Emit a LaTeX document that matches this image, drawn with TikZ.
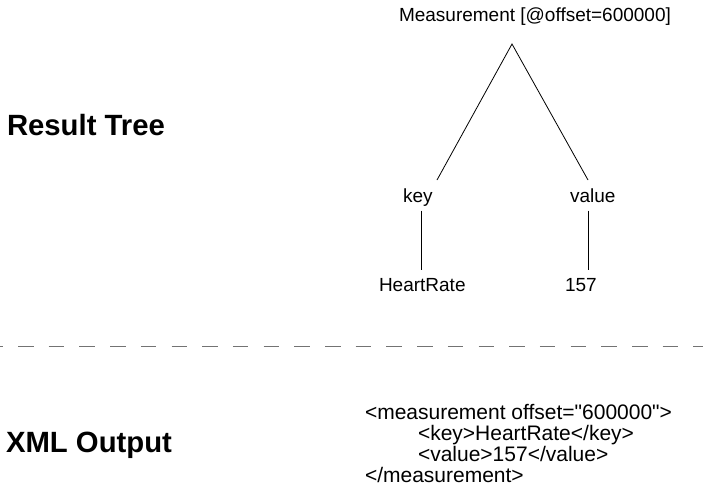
\documentclass[tikz,border=0pt]{standalone}
\usepackage{fontspec}
\setmainfont{Liberation Sans}[Ligatures=TeXOff]
\begin{document}
\begin{tikzpicture}[x=1pt,y=-1pt,
  lbl/.style={inner sep=0pt,outer sep=0pt,anchor=base west,font=\fontsize{19}{22}\selectfont},
  head/.style={inner sep=0pt,outer sep=0pt,anchor=base west,font=\fontsize{29.3}{34}\selectfont\bfseries},
  code/.style={inner sep=0pt,outer sep=0pt,anchor=base west,font=\fontsize{21}{21}\selectfont},
  edge/.style={line width=0.8pt,black},
  sep/.style={line width=1.5pt,black!55,dash pattern=on 15.5pt off 15.2pt,dash phase=12.7pt}]
\useasboundingbox[fill=white] (0,0) rectangle (703,499);
% headings
\node[head] (rt) at (7,135.7) {Result Tree};
\node[head] (xo) at (6,452.7) {XML Output};
% tree
\node[lbl] (root) at (399,21.5) {Measurement [@offset=600000]};
\node[lbl] (key) at (403,202) {key};
\node[lbl] (val) at (570,202) {value};
\node[lbl] (hr) at (379,291.7) {HeartRate};
\node[lbl] (num) at (565,291.7) {157};
\coordinate (apex) at (512,44);
\coordinate (keyend) at (437,180);
\coordinate (valend) at (588,180);
\coordinate (keyb) at (421,210.7);
\coordinate (hrt) at (421,270);
\coordinate (valb) at (588,210.7);
\coordinate (numt) at (588,270);
\draw[edge] (keyend) -- (apex) -- (valend);
\draw[edge] (keyb) -- (hrt);
\draw[edge] (valb) -- (numt);
% separator
\coordinate (sl) at (0,346.7);
\coordinate (sr) at (703,346.7);
\draw[sep] (sl) -- (sr);
% xml
\node[code] (x1) at (365,419.3) {<measurement offset="600000">};
\node[code] (x2) at (418,440.5) {<key>HeartRate</key>};
\node[code] (x3) at (418,461.5) {<value>157</value>};
\node[code] (x4) at (365,482.5) {</measurement>};
\end{tikzpicture}
\end{document}
